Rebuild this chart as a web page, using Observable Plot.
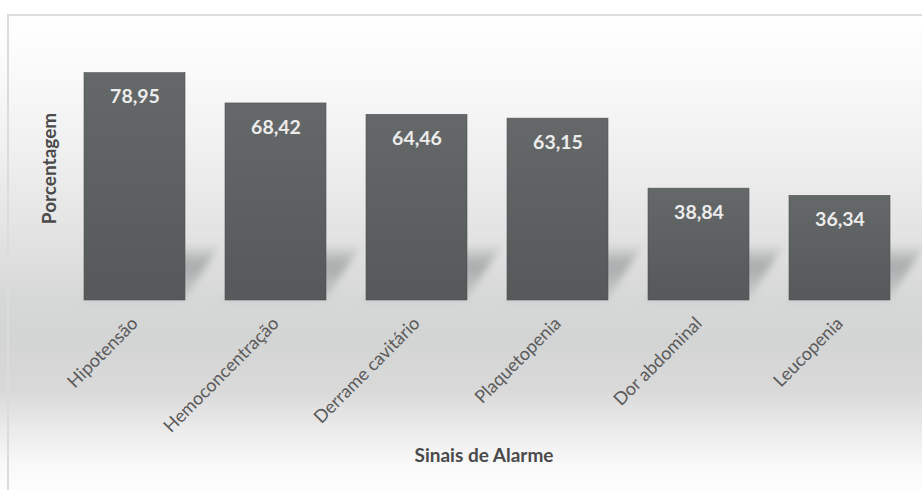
<!DOCTYPE html>
<html>
<head>
<meta charset="utf-8">
<script src="https://cdn.jsdelivr.net/npm/d3@7"></script>
<script src="https://cdn.jsdelivr.net/npm/@observablehq/plot@0.6"></script>
<style>
  html, body { margin: 0; padding: 0; background: #ffffff; }
  #wrap {
    position: relative; width: 922px; height: 490px; overflow: hidden;
    background: linear-gradient(to bottom,
      #ffffff 0px, #ffffff 15px, #fbfbfb 60px, #f0f0f0 150px, #e2e2e2 240px,
      #d6d7d7 300px, #d3d4d4 340px, #d9d9d9 390px, #ebebeb 430px, #f9f9f9 465px, #fdfdfd 490px);
  }
  #frame {
    position: absolute; left: 7px; top: 14px; width: 930px; height: 490px;
    border-top: 2px solid #dcdcdc; border-left: 2px solid #dcdcdc; box-sizing: border-box;
    pointer-events: none;
  }
  #chart { position: absolute; left: 0; top: 0; }
</style>
</head>
<body>
<svg width="0" height="0" style="position:absolute">
  <defs>
    <linearGradient id="barGrad" x1="0" y1="0" x2="0" y2="1">
      <stop offset="0%" stop-color="#646869"/>
      <stop offset="100%" stop-color="#55595a"/>
    </linearGradient>
    <linearGradient id="shadowGrad" x1="0" y1="0" x2="0" y2="1">
      <stop offset="0%" stop-color="#8f9393" stop-opacity="0.2"/>
      <stop offset="35%" stop-color="#929696" stop-opacity="0.7"/>
      <stop offset="100%" stop-color="#a8abab" stop-opacity="0.3"/>
    </linearGradient>
    <filter id="blur" x="-30%" y="-30%" width="160%" height="160%">
      <feGaussianBlur stdDeviation="4.5"/>
    </filter>
  </defs>
</svg>
<div id="wrap">
  <div id="chart"></div>
  <div id="frame"></div>
</div>
<script>
const categories = ["Hipotensão", "Hemoconcentração", "Derrame cavitário", "Plaquetopenia", "Dor abdominal", "Leucopenia"];
const values = [78.95, 68.42, 64.46, 63.15, 38.84, 36.34];
const xTitle = "Sinais de Alarme";
const yTitle = "Porcentagem";

const data = categories.map((c, i) => ({cat: c, value: values[i], label: values[i].toFixed(2).replace(".", ",")}));

const font = "Lato, 'Open Sans', sans-serif";

const svg = Plot.plot({
  width: 922,
  height: 490,
  marginTop: 12,
  marginBottom: 190,
  marginLeft: 63,
  marginRight: 12,
  style: {background: "transparent", fontFamily: font},
  x: {domain: categories, paddingInner: 0.285, paddingOuter: 0.14, label: null},
  y: {domain: [0, 100], axis: null},
  marks: [
    Plot.rect(data, {x: "cat", y1: 0, y2: 18, fill: "url(#shadowGrad)"}),
    Plot.barY(data, {x: "cat", y: "value", fill: "url(#barGrad)", stroke: "#4f5354", strokeWidth: 0.6}),
    Plot.text(data, {x: "cat", y: "value", text: "label", dy: 24, fill: "#ececec", fontWeight: "bold", fontSize: 19.5, fontFamily: font}),
    Plot.axisX({tickSize: 0, tickRotate: -45, tickPadding: 20, fontSize: 18, fill: "#5a5a5a", label: null, fontFamily: font}),
    Plot.text([yTitle], {frameAnchor: "left", textAnchor: "middle", dx: -14, dy: 12, rotate: -90, fontWeight: "bold", fontSize: 19, fill: "#4a4a4a", fontFamily: font}),
    Plot.text([xTitle], {frameAnchor: "bottom", dx: -3, dy: 161, fontWeight: "bold", fontSize: 19, fill: "#4a4a4a", fontFamily: font})
  ]
});

// soft skewed floor shadow behind the bars
const shadowG = svg.querySelector("g[aria-label='rect']");
if (shadowG) {
  const baseY = 300;
  const wrapper = document.createElementNS("http://www.w3.org/2000/svg", "g");
  shadowG.parentNode.insertBefore(wrapper, shadowG);
  wrapper.appendChild(shadowG);
  wrapper.setAttribute("transform", `translate(0,${baseY}) skewX(-32) translate(0,${-baseY})`);
  wrapper.setAttribute("filter", "url(#blur)");
}

document.getElementById("chart").appendChild(svg);
</script>
</body>
</html>
